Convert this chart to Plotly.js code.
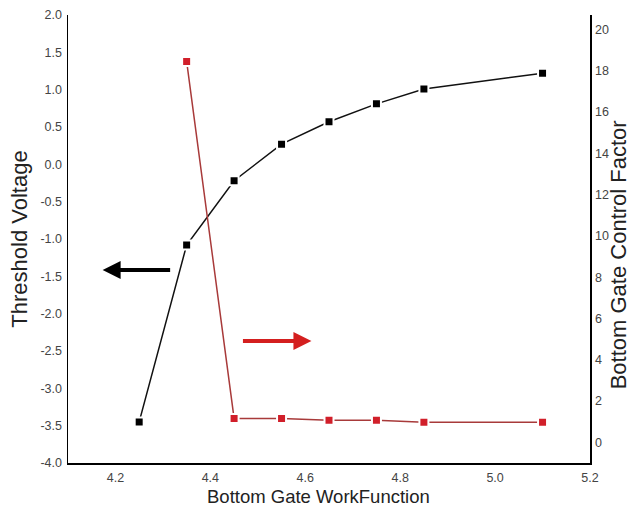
<!DOCTYPE html>
<html>
<head>
<meta charset="utf-8">
<script src="https://cdn.plot.ly/plotly-3.0.1.min.js"></script>
<style>
  html, body { margin: 0; padding: 0; background: #fff; }
  #chart { width: 630px; height: 512px; }
</style>
</head>
<body>
<div id="chart"></div>
<script>
// Bottom gate work function sweep
const workFunction = [4.25, 4.35, 4.45, 4.55, 4.65, 4.75, 4.85, 5.1];
// Threshold voltage (left axis)
const thresholdVoltage = [-3.45, -1.08, -0.22, 0.27, 0.57, 0.81, 1.01, 1.22];
// Bottom gate control factor (right axis), starts at 4.35
const controlX = [4.35, 4.45, 4.55, 4.65, 4.75, 4.85, 5.1];
const controlFactor = [18.45, 1.16, 1.16, 1.07, 1.07, 0.97, 0.97];

const xTicks = [4.2, 4.4, 4.6, 4.8, 5.0, 5.2];
const yTicks = [-4, -3.5, -3, -2.5, -2, -1.5, -1, -0.5, 0, 0.5, 1, 1.5, 2];
const y2Ticks = [0, 2, 4, 6, 8, 10, 12, 14, 16, 18, 20];

const xTitle = 'Bottom Gate WorkFunction';
const yTitle = 'Threshold Voltage';
const y2Title = 'Bottom Gate Control Factor';

const family = 'Liberation Sans, Arial, sans-serif';
const tickFont = { family, size: 12.5, color: '#444' };
const xTitleFont = { family, size: 18.5, color: '#222' };
const yTitleFont = { family, size: 22, color: '#222' };

const traces = [
  {
    x: workFunction, y: thresholdVoltage, type: 'scatter', mode: 'lines+markers',
    line: { color: '#111', width: 1.5 },
    marker: { symbol: 'square', size: 9, color: '#000', line: { color: '#fff', width: 2 } },
    yaxis: 'y', cliponaxis: false
  },
  {
    x: controlX, y: controlFactor, type: 'scatter', mode: 'lines+markers',
    line: { color: '#a83a3a', width: 1.5 },
    marker: { symbol: 'square', size: 9, color: '#d11f2a', line: { color: '#fff', width: 2 } },
    yaxis: 'y2', cliponaxis: false
  }
];

const layout = {
  width: 630, height: 512,
  margin: { l: 68, r: 40, t: 15, b: 49 },
  paper_bgcolor: '#fff', plot_bgcolor: '#fff',
  showlegend: false,
  xaxis: {
    range: [4.1, 5.2], tickvals: xTicks, ticktext: xTicks.map(v => v.toFixed(1)),
    showgrid: false, zeroline: false, showline: true, linecolor: '#000', linewidth: 1.5,
    ticks: '', tickfont: tickFont, ticklabelstandoff: 2
  },
  yaxis: {
    range: [-4, 2], tickvals: yTicks, ticktext: yTicks.map(v => v.toFixed(1)),
    showgrid: false, zeroline: false, showline: true, linecolor: '#000', linewidth: 1.5,
    ticks: '', tickfont: tickFont, ticklabelstandoff: 2,
    title: { text: yTitle, font: yTitleFont, standoff: 7 }
  },
  yaxis2: {
    range: [-1, 20.7], tickvals: y2Ticks, overlaying: 'y', side: 'right',
    showgrid: false, zeroline: false, showline: true, linecolor: '#000', linewidth: 1.5,
    ticks: '', tickfont: tickFont, ticklabelstandoff: 1
  },
  annotations: [
    // x-axis title, sits slightly left of the plot centre
    {
      text: xTitle, font: xTitleFont, showarrow: false,
      xref: 'paper', yref: 'paper', x: 0.479, y: -0.074, xanchor: 'center', yanchor: 'middle'
    },
    // right-axis title
    {
      text: y2Title, font: yTitleFont, showarrow: false, textangle: -90,
      xref: 'paper', yref: 'paper', x: 1.054, y: 0.464, xanchor: 'center', yanchor: 'middle'
    },
    // arrow pointing to the left axis
    {
      x: 4.173, y: -1.415, xref: 'x', yref: 'y', ax: 69, ay: 0,
      showarrow: true, arrowhead: 2, arrowsize: 0.9, arrowwidth: 4, arrowcolor: '#000', text: ''
    },
    // arrow pointing to the right axis
    {
      x: 4.613, y: -2.366, xref: 'x', yref: 'y', ax: -70, ay: 0,
      showarrow: true, arrowhead: 2, arrowsize: 0.9, arrowwidth: 4, arrowcolor: '#d41f1f', text: ''
    }
  ]
};

Plotly.newPlot('chart', traces, layout, { displayModeBar: false, staticPlot: true });
</script>
</body>
</html>
